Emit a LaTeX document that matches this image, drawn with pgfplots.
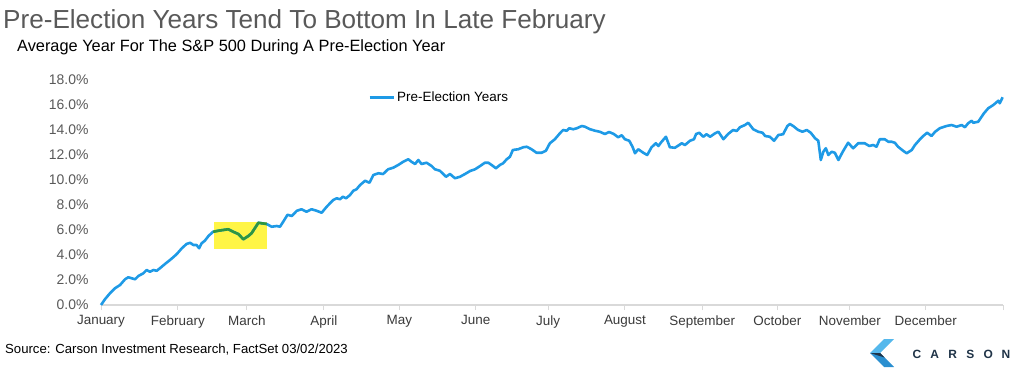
\documentclass[border=0pt]{standalone}
\usepackage{fontspec}
\setmainfont{Liberation Sans}
\usepackage{pgfplots}
\usepackage{pgfplotstable}
\pgfplotsset{compat=1.18}
\definecolor{lineblue}{HTML}{1E9AE6}
\definecolor{hlgreen}{HTML}{2E9640}
\definecolor{hlyellow}{HTML}{FFF546}
\definecolor{titlegrey}{HTML}{595959}
\definecolor{labgrey}{HTML}{3A3A3A}
\definecolor{axisgrey}{HTML}{D9D9D9}
\definecolor{carsonnavy}{HTML}{1F3347}
\definecolor{carsonblue}{HTML}{2A8FD0}
\definecolor{carsonlight}{HTML}{55B8EC}

\pgfplotstableread{
d v
0 0.00
1.1 0.46
2.5 0.94
3.9 1.34
5.3 1.60
6.7 2.06
7.6 2.22
8.5 2.14
9.5 2.06
10.4 2.32
11.8 2.54
12.7 2.80
13.6 2.66
14.6 2.80
15.5 2.74
16.4 2.94
17.8 3.28
19.2 3.60
20.1 3.82
21.1 4.08
22.5 4.54
23.8 4.88
24.8 4.98
25.7 4.80
26.6 4.80
27.3 4.54
28.0 4.94
28.9 5.14
29.9 5.52
31.2 5.86
32.6 5.94
34.0 6.00
35.4 6.06
36.8 5.86
38.2 5.68
39.6 5.26
41.0 5.52
41.9 5.74
43.8 6.58
44.7 6.54
46.1 6.48
47.5 6.26
48.9 6.32
49.8 6.26
50.7 6.66
51.9 7.22
53.1 7.12
54.5 7.54
55.8 7.66
57.2 7.46
58.6 7.66
60.0 7.54
61.4 7.38
62.8 7.86
64.6 8.40
65.6 8.54
66.5 8.46
67.3 8.66
68.2 8.54
69.3 8.80
70.2 9.14
71.1 9.26
72.1 9.60
73.5 9.94
74.7 9.78
75.8 10.40
77.2 10.54
78.5 10.48
79.9 10.86
81.3 10.98
82.7 11.20
84.1 11.46
85.5 11.66
86.4 11.46
87.4 11.28
88.3 11.60
89.2 11.28
90.6 11.38
92.0 11.12
92.9 10.86
94.3 10.74
96.0 10.26
97.1 10.48
98.5 10.14
99.9 10.26
101.3 10.48
102.7 10.72
104.1 10.86
105.5 11.12
106.8 11.38
107.8 11.38
108.7 11.20
109.9 10.94
111.0 11.20
111.9 11.34
112.9 11.66
113.8 11.86
114.6 12.40
116.1 12.46
117.5 12.62
118.5 12.66
119.8 12.46
121.2 12.18
122.6 12.18
123.8 12.34
124.9 12.94
126.3 13.26
127.7 13.74
128.6 14.00
129.6 13.94
130.3 14.14
131.4 14.06
132.4 14.14
133.8 14.32
134.7 14.26
136.1 14.06
137.5 13.94
138.8 13.86
140.2 13.68
141.4 13.84
142.7 13.68
143.9 13.42
144.9 13.58
145.8 13.26
147.0 13.14
147.9 12.66
148.6 12.14
149.5 12.46
150.9 12.18
152.0 12.00
153.2 12.62
154.4 12.94
155.1 12.72
156.0 13.06
157.2 13.46
158.3 12.62
159.7 12.58
160.9 12.80
161.6 12.94
162.5 12.80
163.9 13.14
165.0 13.26
165.6 13.68
166.5 13.78
167.6 13.46
168.5 13.66
169.5 13.46
170.9 13.74
171.8 13.86
173.2 13.26
174.5 13.68
175.9 14.00
176.9 13.92
177.8 14.22
179.2 14.40
180.1 14.58
181.5 14.06
182.9 13.86
184.1 13.78
184.8 13.52
186.1 13.46
187.3 13.14
188.5 13.60
189.8 13.66
191.0 14.32
191.7 14.48
192.6 14.32
194.0 14.00
195.2 13.86
196.4 14.00
197.5 13.78
198.7 13.34
199.6 13.14
200.3 11.60
201.0 12.26
201.7 12.54
202.4 12.00
203.3 12.26
204.2 12.18
205.2 11.60
206.4 12.26
207.9 12.98
209.3 12.54
210.7 12.94
212.5 12.94
213.8 12.72
214.9 12.80
215.8 12.66
216.7 13.26
218.1 13.26
219.1 13.06
220.0 13.06
220.9 12.98
221.8 12.66
223.2 12.34
224.2 12.14
225.6 12.40
226.5 12.80
227.9 13.26
228.8 13.52
229.9 13.78
231.1 13.52
232.1 13.86
233.4 14.14
235.3 14.32
236.7 14.40
238.1 14.26
239.5 14.40
240.4 14.22
241.3 14.54
242.3 14.74
242.7 14.58
244.1 14.66
245.7 15.34
246.9 15.74
248.3 16.00
249.7 16.34
250.1 16.14
250.9 16.62
}\preelection

\pgfplotstableread{
d v
31.2 5.86
32.6 5.94
34.0 6.00
35.4 6.06
36.8 5.86
38.2 5.68
39.6 5.26
41.0 5.52
41.9 5.74
43.8 6.58
44.7 6.54
46.1 6.48
}\highlight

\pgfplotstableread{
d v
31.4 4.48
46.2 4.48
46.2 6.66
31.4 6.66
}\hlbox

\begin{document}
\begin{tikzpicture}
\useasboundingbox (0bp,0bp) rectangle (1023bp,-375bp);
\node[anchor=base west, font=\fontsize{26.2}{30}\selectfont, text=titlegrey, inner sep=0] at (3bp,-28bp) {Pre-Election Years Tend To Bottom In Late February};
\node[anchor=base west, font=\fontsize{16.4}{19}\selectfont, inner sep=0] at (17bp,-51bp) {Average Year For The S\&P 500 During A Pre-Election Year};
\node[anchor=base west, font=\fontsize{13.2}{16}\selectfont, inner sep=0] at (5bp,-353bp) {Source: Carson Investment Research, FactSet 03/02/2023};

\begin{axis}[
  at={(101bp,-305bp)}, anchor=south west,
  scale only axis, width=902bp, height=225bp,
  xmin=0, xmax=251, ymin=0, ymax=18,
  axis x line*=bottom, axis y line*=left,
  x axis line style={draw=axisgrey, line width=1.2bp, -},
  y axis line style={draw=none},
  xtick={0,21.4,40.6,62,83,104.3,124.4,145.8,167.3,188.2,208.4,229.5,251},
  xticklabels={January,February,March,April,May,June,July,August,September,October,November,December,{}},
  xtick style={draw=axisgrey, line width=1bp},
  tick align=outside, major tick length=5bp,
  ytick={0,2,...,18},
  ytick style={draw=none},
  /pgf/number format/assume math mode=true,
  yticklabel={\pgfmathprintnumber[fixed,fixed zerofill,precision=1]{\tick}\%},
  yticklabel style={font=\fontsize{14}{16}\selectfont, text=titlegrey, xshift=-4bp},
  xticklabel style={font=\fontsize{13.5}{16}\selectfont, text=labgrey, yshift=-2bp},
  legend style={draw=none, fill=none, at={(0.296,0.924)}, anchor=west,
    font=\fontsize{13.5}{16}\selectfont, inner sep=0pt},
  legend cell align=left,
  legend image code/.code={\draw[#1, line width=3bp] (0,0) -- (24bp,0);},
  clip=false,
]
\addplot[fill=hlyellow, draw=none, forget plot] table[x=d, y=v] {\hlbox} -- cycle;
\addplot[lineblue, line width=2.6bp, line join=round] table[x=d, y=v] {\preelection};
\addlegendentry{Pre-Election Years}
\addplot[hlgreen, line width=2.6bp, line join=round, forget plot] table[x=d, y=v] {\highlight};
\end{axis}

% Carson logo
\fill[carsonlight] (884bp,-339bp) -- (894bp,-339bp) -- (880bp,-353bp) -- (870bp,-353bp) -- cycle;
\fill[carsonblue] (870bp,-353bp) -- (880bp,-353bp) -- (894bp,-367bp) -- (884bp,-367bp) -- cycle;
\fill[carsonnavy] (870bp,-353bp) -- (880bp,-353bp) -- (884.5bp,-357.5bp) -- cycle;
\foreach \ch [count=\i from 0] in {C,A,R,S,O,N}
  \node[anchor=base, font=\fontsize{12}{14}\selectfont\bfseries, text=carsonnavy, inner sep=0] at ({(917+\i*17.8)*1bp},-358bp) {\ch};
\end{tikzpicture}
\end{document}
